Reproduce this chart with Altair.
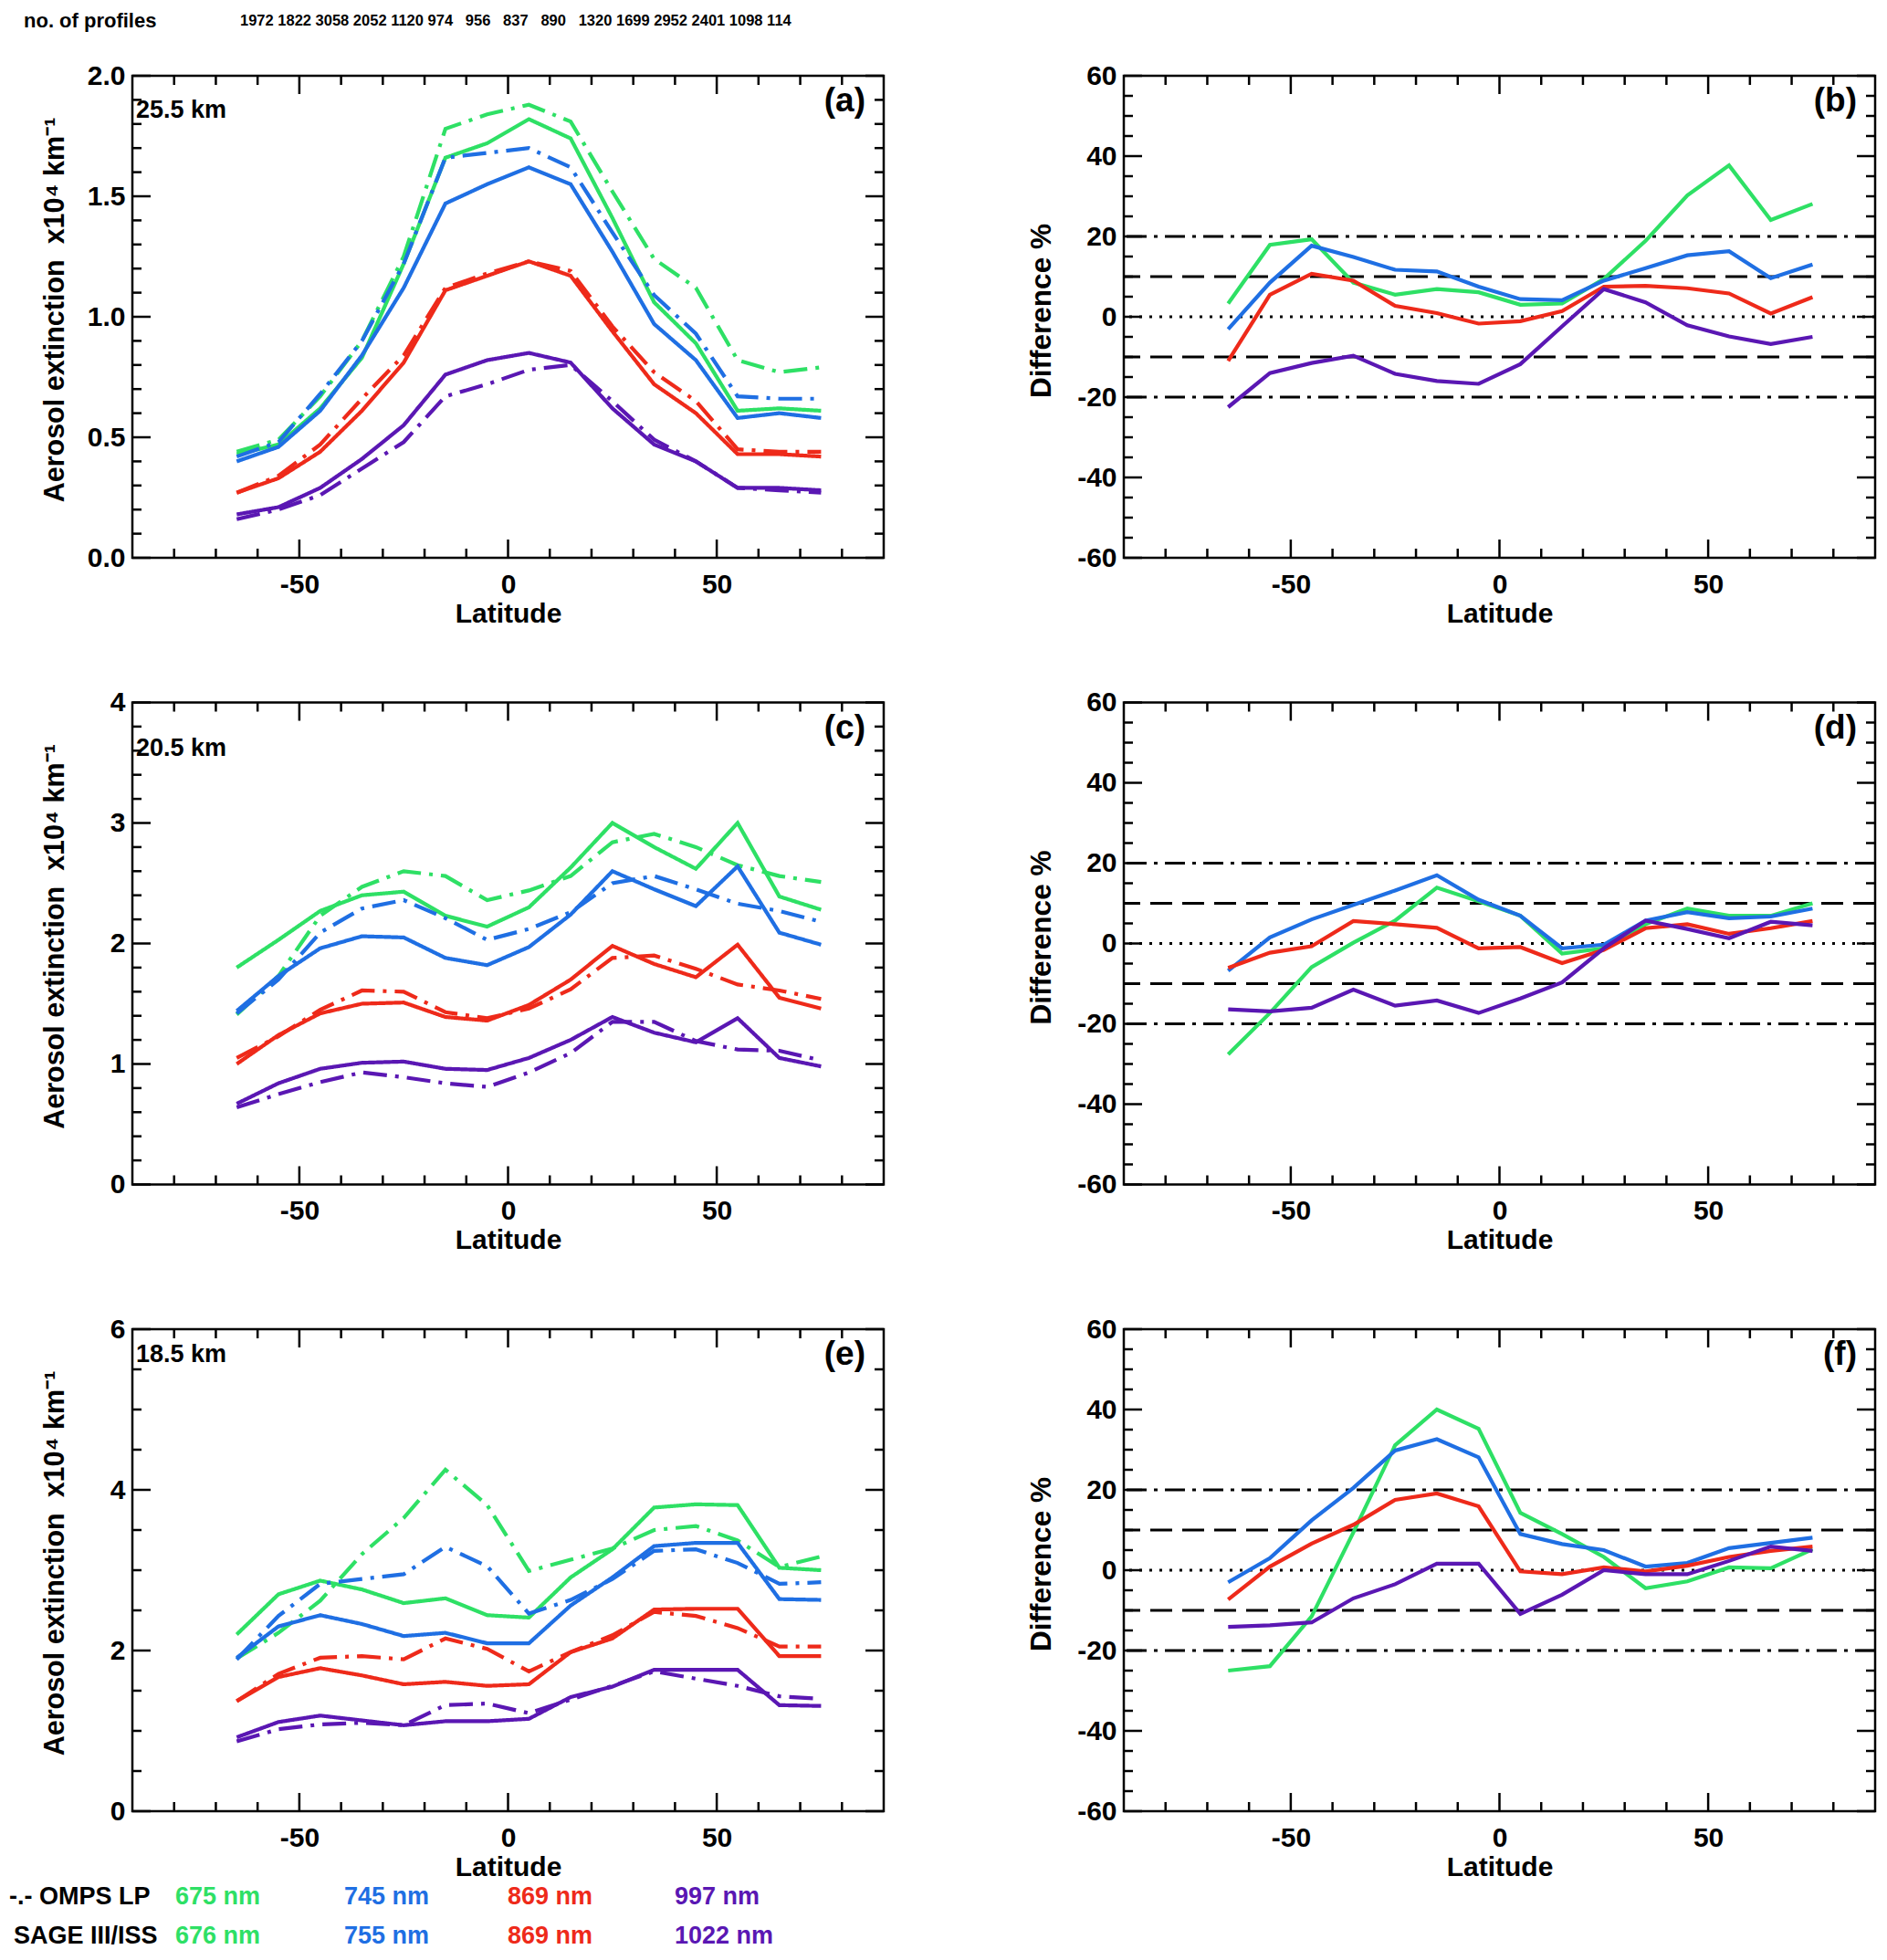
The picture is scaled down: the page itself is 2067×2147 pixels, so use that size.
import altair as alt
import pandas as pd

# ---------------- data ----------------
LAT = [-65, -55, -45, -35, -25, -15, -5, 5, 15, 25, 35, 45, 55, 65, 75]
PROFILES = [1972, 1822, 3058, 2052, 1120, 974, 956, 837, 890, 1320, 1699, 2952, 2401, 1098, 114]

BANDS = ["green", "blue", "red", "purple"]
COLORS = ["#2EE065", "#1F6FE3", "#EE2A1A", "#5A17B3"]
OMPS_LABELS = ["675 nm", "745 nm", "869 nm", "997 nm"]
SAGE_LABELS = ["676 nm", "755 nm", "869 nm", "1022 nm"]

# (a) 25.5 km extinction
A_SAGE_GREEN = [0.43, 0.47, 0.62, 0.83, 1.22, 1.66, 1.72, 1.82, 1.74, 1.41, 1.06, 0.89, 0.61, 0.62, 0.61]
A_OMPS_GREEN = [0.44, 0.49, 0.67, 0.90, 1.25, 1.78, 1.84, 1.88, 1.81, 1.52, 1.24, 1.12, 0.82, 0.77, 0.79]
A_SAGE_BLUE = [0.40, 0.46, 0.61, 0.84, 1.12, 1.47, 1.55, 1.62, 1.55, 1.27, 0.97, 0.82, 0.58, 0.60, 0.58]
A_OMPS_BLUE = [0.42, 0.48, 0.68, 0.90, 1.22, 1.66, 1.68, 1.70, 1.62, 1.35, 1.09, 0.93, 0.67, 0.66, 0.66]
A_SAGE_RED = [0.27, 0.33, 0.44, 0.61, 0.81, 1.11, 1.17, 1.23, 1.17, 0.94, 0.72, 0.60, 0.43, 0.43, 0.42]
A_OMPS_RED = [0.27, 0.34, 0.47, 0.66, 0.84, 1.12, 1.18, 1.23, 1.19, 0.96, 0.77, 0.65, 0.45, 0.44, 0.44]
A_SAGE_PURPLE = [0.18, 0.21, 0.29, 0.41, 0.55, 0.76, 0.82, 0.85, 0.81, 0.62, 0.47, 0.40, 0.29, 0.29, 0.28]
A_OMPS_PURPLE = [0.16, 0.20, 0.26, 0.37, 0.48, 0.67, 0.72, 0.78, 0.80, 0.65, 0.49, 0.40, 0.29, 0.28, 0.27]

# (b) 25.5 km difference %
B_GREEN = [3.3, 17.9, 19.3, 8.5, 5.5, 6.9, 6.1, 3.0, 3.3, 9.4, 18.9, 30.2, 37.7, 24.1, 28.1]
B_BLUE = [-3.1, 8.5, 17.7, 14.9, 11.7, 11.3, 7.5, 4.4, 4.1, 9.0, 12.1, 15.3, 16.3, 9.6, 13.0]
B_RED = [-11.0, 5.5, 10.7, 9.0, 2.7, 0.9, -1.7, -1.1, 1.4, 7.5, 7.7, 7.1, 5.8, 0.8, 4.9]
B_PURPLE = [-22.5, -14.0, -11.5, -9.7, -14.2, -16.0, -16.7, -11.8, -2.4, 6.9, 3.6, -2.1, -4.9, -6.8, -5.0]

# (c) 20.5 km extinction
C_SAGE_GREEN = [1.80, 2.03, 2.27, 2.40, 2.43, 2.23, 2.14, 2.30, 2.63, 3.00, 2.80, 2.62, 3.00, 2.39, 2.28]
C_OMPS_GREEN = [1.41, 1.73, 2.23, 2.47, 2.60, 2.56, 2.36, 2.44, 2.56, 2.84, 2.91, 2.80, 2.65, 2.56, 2.51]
C_SAGE_BLUE = [1.44, 1.73, 1.96, 2.06, 2.05, 1.88, 1.82, 1.97, 2.24, 2.60, 2.45, 2.31, 2.64, 2.09, 1.99]
C_OMPS_BLUE = [1.42, 1.70, 2.09, 2.29, 2.36, 2.21, 2.03, 2.12, 2.26, 2.50, 2.56, 2.45, 2.33, 2.27, 2.18]
C_SAGE_RED = [1.00, 1.24, 1.42, 1.50, 1.51, 1.39, 1.36, 1.49, 1.70, 1.98, 1.83, 1.72, 1.99, 1.55, 1.46]
C_OMPS_RED = [1.05, 1.23, 1.45, 1.61, 1.60, 1.43, 1.38, 1.46, 1.62, 1.88, 1.90, 1.79, 1.66, 1.61, 1.54]
C_SAGE_PURPLE = [0.67, 0.84, 0.96, 1.01, 1.02, 0.96, 0.95, 1.05, 1.20, 1.39, 1.26, 1.18, 1.38, 1.05, 0.98]
C_OMPS_PURPLE = [0.64, 0.75, 0.85, 0.93, 0.89, 0.84, 0.81, 0.93, 1.09, 1.35, 1.35, 1.19, 1.12, 1.11, 1.03]

# (d) 20.5 km difference %
D_GREEN = [-27.6, -17.3, -5.9, 0.2, 5.7, 13.9, 10.5, 6.9, -2.5, -1.2, 4.8, 8.7, 6.9, 6.9, 10.0]
D_BLUE = [-6.8, 1.5, 6.0, 9.6, 13.2, 17.0, 10.9, 6.9, -1.2, -0.3, 5.7, 7.8, 6.3, 6.7, 8.7]
D_RED = [-6.1, -2.3, -0.7, 5.6, 4.8, 3.9, -1.2, -0.9, -4.9, -1.6, 3.8, 4.8, 2.4, 3.8, 5.6]
D_PURPLE = [-16.4, -16.9, -16.0, -11.5, -15.5, -14.2, -17.3, -13.7, -9.7, -1.2, 5.7, 3.6, 1.3, 5.4, 4.5]

# (e) 18.5 km extinction
E_SAGE_GREEN = [2.20, 2.70, 2.87, 2.76, 2.59, 2.65, 2.44, 2.41, 2.91, 3.26, 3.78, 3.82, 3.81, 3.03, 3.00]
E_OMPS_GREEN = [1.90, 2.22, 2.62, 3.20, 3.65, 4.25, 3.81, 2.99, 3.13, 3.27, 3.50, 3.55, 3.37, 3.04, 3.17]
E_SAGE_BLUE = [1.91, 2.30, 2.44, 2.33, 2.18, 2.22, 2.09, 2.09, 2.56, 2.91, 3.30, 3.34, 3.34, 2.64, 2.63]
E_OMPS_BLUE = [1.89, 2.43, 2.83, 2.89, 2.95, 3.29, 3.05, 2.46, 2.63, 2.89, 3.24, 3.26, 3.09, 2.83, 2.85]
E_SAGE_RED = [1.37, 1.67, 1.78, 1.69, 1.58, 1.61, 1.56, 1.58, 1.98, 2.15, 2.51, 2.52, 2.52, 1.93, 1.93]
E_OMPS_RED = [1.37, 1.71, 1.91, 1.93, 1.89, 2.15, 2.02, 1.74, 1.98, 2.19, 2.48, 2.43, 2.28, 2.05, 2.05]
E_SAGE_PURPLE = [0.92, 1.11, 1.19, 1.13, 1.07, 1.12, 1.12, 1.15, 1.42, 1.55, 1.76, 1.76, 1.76, 1.32, 1.31]
E_OMPS_PURPLE = [0.87, 1.02, 1.08, 1.10, 1.07, 1.32, 1.34, 1.22, 1.39, 1.56, 1.74, 1.65, 1.56, 1.43, 1.40]

# (f) 18.5 km difference %
F_GREEN = [-25.0, -23.9, -11.5, 9.4, 31.1, 40.0, 35.2, 14.3, 9.0, 3.3, -4.5, -2.8, 0.7, 0.5, 5.2]
F_BLUE = [-3.0, 3.0, 12.4, 20.5, 29.8, 32.6, 28.1, 9.0, 6.5, 5.0, 0.9, 1.8, 5.5, 6.8, 8.1]
F_RED = [-7.3, 0.9, 6.6, 11.3, 17.5, 19.1, 15.9, -0.3, -1.0, 0.7, -0.3, 1.1, 3.3, 4.8, 5.9]
F_PURPLE = [-14.1, -13.7, -13.0, -7.0, -3.5, 1.6, 1.6, -10.9, -6.1, 0.0, -1.0, -1.0, 2.3, 5.9, 4.8]

# axis tick values
X_MAJOR = [-50, 0, 50]
X_MINOR = [-80, -70, -60, -40, -30, -20, -10, 10, 20, 30, 40, 60, 70, 80]
A_Y_MAJOR = [0.0, 0.5, 1.0, 1.5, 2.0]
C_Y_MAJOR = [0, 1, 2, 3, 4]
E_Y_MAJOR = [0, 2, 4, 6]
D_Y_MAJOR = [-60, -40, -20, 0, 20, 40, 60]
REF_DASHDOT = [20, -20]
REF_DASH = [10, -10]
REF_DOT = [0]

# ---------------- style ----------------
W, H = 823, 528
FONT = "Liberation Sans"
MAJ_LEN, MIN_LEN = 20, 10
TICK_W = 2.5
LINE_W = 4.2
OMPS_DASH = [26, 9, 4, 9]
NBSP = "\u00a0"
EXT_TITLE = "Aerosol extinction" + NBSP + " x10\u2074 km\u207b\u00b9"


def minor_ticks(lo, hi, step, major):
    n = int(round((hi - lo) / step))
    vals = [round(lo + i * step, 6) for i in range(n + 1)]
    return [v for v in vals if all(abs(v - m) > 1e-9 for m in major)]


def make_axes(ydom, ymajor, yfmt, ytitle, ytitle_x, ytitle_size, ytitle_y):
    xscale = alt.Scale(domain=[-90, 90], nice=False, zero=False)
    yscale = alt.Scale(domain=ydom, nice=False, zero=False)
    xaxis = alt.Axis(values=X_MAJOR, ticks=False, domain=False, grid=False,
                     labelPadding=14, labelExpr="'' + datum.value",
                     title="Latitude", titleY=61, titleBaseline="middle")
    yaxis = alt.Axis(values=ymajor, ticks=False, domain=False, grid=False,
                     labelPadding=8, labelExpr=yfmt,
                     title=ytitle, titleX=ytitle_x, titleY=ytitle_y, titleAngle=270,
                     titleAlign="center", titleBaseline="middle", titleFontSize=ytitle_size)
    return xscale, yscale, xaxis, yaxis


def tick_layers(xs, ys, xa, ya, ymajor, yminor):
    layers = []
    for vals, L in ((X_MAJOR, MAJ_LEN), (X_MINOR, MIN_LEN)):
        base = alt.Chart(pd.DataFrame({"lat": vals})).mark_rule(color="black", strokeWidth=TICK_W)
        xenc = alt.X("lat:Q", scale=xs, axis=xa)
        layers.append(base.encode(x=xenc, y=alt.value(H), y2=alt.value(H - L)))
        layers.append(base.encode(x=xenc, y=alt.value(0), y2=alt.value(L)))
    for vals, L in ((ymajor, MAJ_LEN), (yminor, MIN_LEN)):
        base = alt.Chart(pd.DataFrame({"val": vals})).mark_rule(color="black", strokeWidth=TICK_W)
        yenc = alt.Y("val:Q", scale=ys, axis=ya)
        layers.append(base.encode(y=yenc, x=alt.value(0), x2=alt.value(L)))
        layers.append(base.encode(y=yenc, x=alt.value(W), x2=alt.value(W - L)))
    return layers


def letter_layer(letter):
    return alt.Chart(pd.DataFrame({"t": [letter]})).mark_text(
        align="right", baseline="middle", font=FONT, fontWeight="bold", fontSize=37, color="black"
    ).encode(x=alt.value(W - 20), y=alt.value(28), text="t:N")


def ext_panel(sage, omps, ydom, ymajor, ystep, yfmt, letter, km, km_y, extra=None):
    xs, ys, xa, ya = make_axes(ydom, ymajor, yfmt, EXT_TITLE, -85, 30.5, H / 2 - 8)
    rows = []
    for band, s, o in zip(BANDS, sage, omps):
        for la, v in zip(LAT, s):
            rows.append({"lat": la, "val": v, "band": band, "inst": "SAGE"})
        for la, v in zip(LAT, o):
            rows.append({"lat": la, "val": v, "band": band, "inst": "OMPS"})
    df = pd.DataFrame(rows)
    lines = alt.Chart(df).mark_line(strokeWidth=LINE_W).encode(
        x=alt.X("lat:Q", scale=xs, axis=xa),
        y=alt.Y("val:Q", scale=ys, axis=ya),
        color=alt.Color("band:N", scale=alt.Scale(domain=BANDS, range=COLORS), legend=None),
        strokeDash=alt.StrokeDash("inst:N", scale=alt.Scale(domain=["SAGE", "OMPS"], range=[[1, 0], OMPS_DASH]), legend=None),
        detail="inst:N",
    )
    km_text = alt.Chart(pd.DataFrame({"t": [km]})).mark_text(
        align="left", baseline="middle", font=FONT, fontWeight="bold", fontSize=27, color="black"
    ).encode(x=alt.value(4), y=alt.value(km_y), text="t:N")
    yminor = minor_ticks(ydom[0], ydom[1], ystep, ymajor)
    layers = [lines] + tick_layers(xs, ys, xa, ya, ymajor, yminor) + [km_text, letter_layer(letter)]
    if extra:
        layers += extra(xs, xa)
    return alt.layer(*layers).properties(width=W, height=H)


def ref_layer(levels, dash, ys, ya):
    return alt.Chart(pd.DataFrame({"val": levels})).mark_rule(
        color="black", strokeWidth=3, strokeDash=dash
    ).encode(y=alt.Y("val:Q", scale=ys, axis=ya))


def diff_panel(series, letter):
    xs, ys, xa, ya = make_axes([-60, 60], D_Y_MAJOR, "'' + datum.value", "Difference %", -90, 31.5, H / 2 - 7)
    rows = []
    for band, s in zip(BANDS, series):
        for la, v in zip(LAT, s):
            rows.append({"lat": la, "val": v, "band": band})
    df = pd.DataFrame(rows)
    refs = [ref_layer(REF_DASHDOT, [22, 8, 4, 8], ys, ya),
            ref_layer(REF_DASH, [24, 11], ys, ya),
            ref_layer(REF_DOT, [3, 8], ys, ya)]
    lines = alt.Chart(df).mark_line(strokeWidth=LINE_W).encode(
        x=alt.X("lat:Q", scale=xs, axis=xa),
        y=alt.Y("val:Q", scale=ys, axis=ya),
        color=alt.Color("band:N", scale=alt.Scale(domain=BANDS, range=COLORS), legend=None),
    )
    yminor = minor_ticks(-60, 60, 5, D_Y_MAJOR)
    layers = refs + [lines] + tick_layers(xs, ys, xa, ya, D_Y_MAJOR, yminor) + [letter_layer(letter)]
    return alt.layer(*layers).properties(width=W, height=H)


def profiles_layers(xs, xa):
    # counts printed as one row in fixed 4-digit fields
    fields = [str(p) + NBSP * (2 * (4 - len(str(p)))) for p in PROFILES]
    line = " ".join(fields)
    nums = alt.Chart(pd.DataFrame({"t": [line]})).mark_text(
        align="left", baseline="middle", font=FONT, fontWeight="bold", fontSize=16.5, color="black"
    ).encode(x=alt.value(118), y=alt.value(-60), text="t:N")
    lab = alt.Chart(pd.DataFrame({"t": ["no. of profiles"]})).mark_text(
        align="left", baseline="middle", font=FONT, fontWeight="bold", fontSize=22, color="black"
    ).encode(x=alt.value(-119), y=alt.value(-60), text="t:N")
    return [nums, lab]


def legend_layers(xs, xa):
    out = []
    out.append(alt.Chart(pd.DataFrame({"t": ["-.- OMPS LP"]})).mark_text(
        align="left", baseline="middle", font=FONT, fontWeight="bold", fontSize=27, color="black"
    ).encode(x=alt.value(-135), y=alt.value(622), text="t:N"))
    out.append(alt.Chart(pd.DataFrame({"t": ["SAGE III/ISS"]})).mark_text(
        align="left", baseline="middle", font=FONT, fontWeight="bold", fontSize=27, color="black"
    ).encode(x=alt.value(-130), y=alt.value(665), text="t:N"))
    xpos = [47, 232, 411, 594]
    for lab_list, yv in ((OMPS_LABELS, 622), (SAGE_LABELS, 665)):
        for txt, col, xp in zip(lab_list, COLORS, xpos):
            out.append(alt.Chart(pd.DataFrame({"t": [txt]})).mark_text(
                align="left", baseline="middle", font=FONT, fontWeight="bold", fontSize=27, color=col
            ).encode(x=alt.value(xp), y=alt.value(yv), text="t:N"))
    return out


pa = ext_panel([A_SAGE_GREEN, A_SAGE_BLUE, A_SAGE_RED, A_SAGE_PURPLE],
               [A_OMPS_GREEN, A_OMPS_BLUE, A_OMPS_RED, A_OMPS_PURPLE],
               [0, 2.0], A_Y_MAJOR, 0.1, "format(datum.value, '.1f')", "(a)", "25.5 km", 38,
               extra=profiles_layers)
pb = diff_panel([B_GREEN, B_BLUE, B_RED, B_PURPLE], "(b)")
pc = ext_panel([C_SAGE_GREEN, C_SAGE_BLUE, C_SAGE_RED, C_SAGE_PURPLE],
               [C_OMPS_GREEN, C_OMPS_BLUE, C_OMPS_RED, C_OMPS_PURPLE],
               [0, 4], C_Y_MAJOR, 0.2, "'' + datum.value", "(c)", "20.5 km", 50)
pd_ = diff_panel([D_GREEN, D_BLUE, D_RED, D_PURPLE], "(d)")
pe = ext_panel([E_SAGE_GREEN, E_SAGE_BLUE, E_SAGE_RED, E_SAGE_PURPLE],
               [E_OMPS_GREEN, E_OMPS_BLUE, E_OMPS_RED, E_OMPS_PURPLE],
               [0, 6], E_Y_MAJOR, 0.5, "'' + datum.value", "(e)", "18.5 km", 28,
               extra=legend_layers)
pf = diff_panel([F_GREEN, F_BLUE, F_RED, F_PURPLE], "(f)")

chart = alt.concat(pa, pb, pc, pd_, pe, pf, columns=2,
                   spacing={"row": 158.5, "column": 263}, bounds="flush").properties(
    padding={"left": 0, "top": 2, "right": 0, "bottom": 0},
    background="white",
).configure_view(
    stroke="black", strokeWidth=2.5
).configure_axis(
    labelFont=FONT, labelFontSize=30, labelFontWeight="bold", labelColor="black",
    titleFont=FONT, titleFontSize=30, titleFontWeight="bold", titleColor="black",
)

chart.save("out.html", embed_options={"renderer": "svg", "actions": False})
